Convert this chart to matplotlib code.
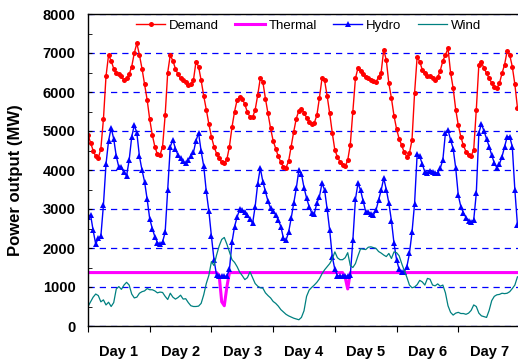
import numpy as np
import matplotlib
matplotlib.use("Agg")
from matplotlib import pyplot as plt

plt.rcParams['font.family'] = ['Liberation Sans', 'DejaVu Sans']

# hourly values over one week (MW)
hours = np.arange(168)
days = ['Day 1', 'Day 2', 'Day 3', 'Day 4', 'Day 5', 'Day 6', 'Day 7']

demand = [
    4900, 4700, 4500, 4350, 4300, 4550, 5300, 6400, 6950, 6800, 6600, 6500, 6450, 6400, 6300, 6350, 6450, 6650, 7000, 7250, 6950, 6600, 6200, 5800,
    5300, 4900, 4600, 4400, 4380, 4600, 5400, 6500, 6950, 6800, 6600, 6450, 6350, 6300, 6250, 6180, 6200, 6300, 6780, 6650, 6300, 5900, 5550, 5180,
    4850, 4600, 4420, 4300, 4200, 4180, 4270, 4600, 5100, 5500, 5800, 5880, 5830, 5680, 5480, 5360, 5350, 5540, 5920, 6350, 6260, 5830, 5450, 5070,
    4750, 4550, 4350, 4200, 4080, 4060, 4220, 4600, 4980, 5320, 5520, 5560, 5470, 5340, 5240, 5180, 5210, 5400, 5850, 6350, 6300, 5900, 5450, 4950,
    4510, 4340, 4210, 4130, 4090, 4250, 4650, 5500, 6350, 6620, 6530, 6450, 6380, 6350, 6320, 6270, 6260, 6380, 6500, 7080, 6820, 6220, 5840, 5390,
    5050, 4800, 4630, 4450, 4340, 4430, 4770, 5970, 6900, 6780, 6570, 6480, 6420, 6400, 6370, 6310, 6380, 6550, 6800, 6950, 7120, 6500, 6100, 5550,
    5150, 4850, 4630, 4470, 4380, 4360, 4520, 5540, 6700, 6760, 6610, 6480, 6350, 6230, 6140, 6100, 6220, 6480, 6700, 7050, 6950, 6650, 6200, 5600,
]

hydro = [
    2800, 2850, 2450, 2100, 2250, 2300, 3100, 4150, 4750, 5080, 4800, 4350, 4070, 4070, 3940, 3850, 4250, 4850, 5150, 4950, 4350, 4000, 3700, 3250,
    2750, 2500, 2290, 2140, 2100, 2160, 2400, 3500, 4600, 4770, 4550, 4380, 4300, 4220, 4170, 4260, 4350, 4450, 4750, 4950, 4480, 4100, 3450, 2950,
    2300, 1700, 1300, 1270, 1270, 1270, 1280, 1450, 2150, 2550, 2800, 2990, 2980, 2930, 2850, 2750, 2630, 3060, 3650, 4050, 3700, 3450, 3200, 3020,
    2950, 2850, 2720, 2550, 2250, 2200, 2400, 2760, 3150, 3530, 4000, 3900, 3550, 3280, 3060, 2900, 2880, 3150, 3320, 3660, 3490, 3000, 2450, 1780,
    1450, 1290, 1280, 1280, 1280, 1280, 1300, 2200, 3250, 3660, 3480, 3200, 2930, 2930, 2880, 2850, 2970, 3230, 3480, 3790, 3500, 3150, 2700, 2120,
    1700, 1450, 1390, 1390, 1520, 1860, 2400, 3140, 4400, 4350, 4150, 3950, 3930, 3980, 3960, 3920, 3930, 4050, 4260, 4950, 5030, 4770, 4550, 4050,
    3350, 3060, 2900, 2780, 2700, 2660, 2720, 3400, 4950, 5180, 5000, 4800, 4600, 4380, 4180, 4060, 4150, 4340, 4600, 4850, 4850, 4600, 3490, 2600,
]

thermal = [1370] * 51 + [1300, 620, 520, 1000] + [1370] * 45 + [1250, 950] + [1370] * 66

wind = [
    500, 620, 740, 820, 780, 620, 670, 540, 610, 500, 600, 950, 1010, 940, 1050, 1120, 1050, 820, 720, 740, 840, 880, 900, 960,
    930, 930, 900, 850, 870, 860, 760, 680, 840, 740, 690, 730, 790, 690, 700, 600, 520, 500, 500, 510, 580, 800, 1090, 1300,
    1650, 1550, 1820, 2050, 2220, 2270, 2100, 1900, 1700, 1630, 1520, 1380, 1290, 1190, 1240, 1390, 1240, 1090, 1020, 980, 970, 850, 780, 720,
    630, 580, 510, 420, 360, 300, 260, 230, 200, 180, 160, 220, 390, 760, 920, 990, 1050, 1120, 1210, 1340, 1440, 1520, 1600, 1720,
    1900, 1750, 1700, 1700, 1750, 1880, 1550, 1500, 1600, 1800, 1980, 1970, 1960, 2020, 2030, 2010, 1990, 1910, 1870, 1820, 1780, 1860, 1730, 1900,
    1880, 1800, 1600, 1420, 1250, 1050, 980, 1000, 1060, 1170, 1130, 1050, 1220, 1200, 1050, 1030, 1080, 1020, 1050, 850, 520, 350, 280, 330,
    350, 320, 320, 300, 330, 400, 540, 500, 330, 260, 240, 220, 400, 650, 760, 800, 810, 840, 830, 840, 880, 960, 1050, 1260,
]

fig = plt.figure(figsize=(5.18, 3.6), dpi=100)
ax = fig.add_axes([88 / 518, 34 / 360, 432 / 518, 312 / 360])

ax.plot(hours, demand, color='#FF0000', lw=1.0, marker='o', ms=3.6, mew=0, label='Demand')
ax.plot(hours, thermal, color='#FF00FF', lw=2.2, label='Thermal')
ax.plot(hours, hydro, color='#0000FF', lw=1.0, marker='^', ms=4.6, mew=0, label='Hydro')
ax.plot(hours, wind, color='#008080', lw=0.9, label='Wind')

ax.set_xlim(0, 168)
ax.set_ylim(0, 8000)

# y axis
ax.set_yticks(np.arange(0, 8001, 1000))
ax.set_yticks(np.arange(500, 8000, 1000), minor=True)
ax.tick_params(axis='y', which='major', direction='in', length=3, pad=9,
               labelsize=10.5)
ax.tick_params(axis='y', which='minor', direction='in', length=3)
for lab in ax.get_yticklabels():
    lab.set_fontweight('bold')
ax.yaxis.grid(True, which='major', color='#0000FF', linestyle=(0, (5, 4)), lw=0.9)

# x axis: ticks at day boundaries, labels in the middle of each day
ax.set_xticks(np.arange(0, 169, 24))
ax.set_xticklabels([])
ax.set_xticks(np.arange(12, 168, 24), minor=True)
ax.set_xticklabels(days, minor=True, fontweight='bold', fontsize=10.5)
ax.tick_params(axis='x', which='major', direction='out', length=4)
ax.tick_params(axis='x', which='minor', length=0, pad=14)

ax.spines['right'].set_visible(False)
for s in ['left', 'top', 'bottom']:
    ax.spines[s].set_linewidth(1.0)

fig.text(15.5 / 518, 1 - 180 / 360, 'Power output (MW)', rotation=90,
         ha='center', va='center', fontsize=12, fontweight='bold')

fig.legend(loc='center left', bbox_to_anchor=(136 / 518, 1 - 26 / 360),
           ncol=4, frameon=False, fontsize=9.5, handlelength=2.2,
           handletextpad=0.3, columnspacing=1.25, borderpad=0, borderaxespad=0)

fig.savefig('out.png', dpi=100)
